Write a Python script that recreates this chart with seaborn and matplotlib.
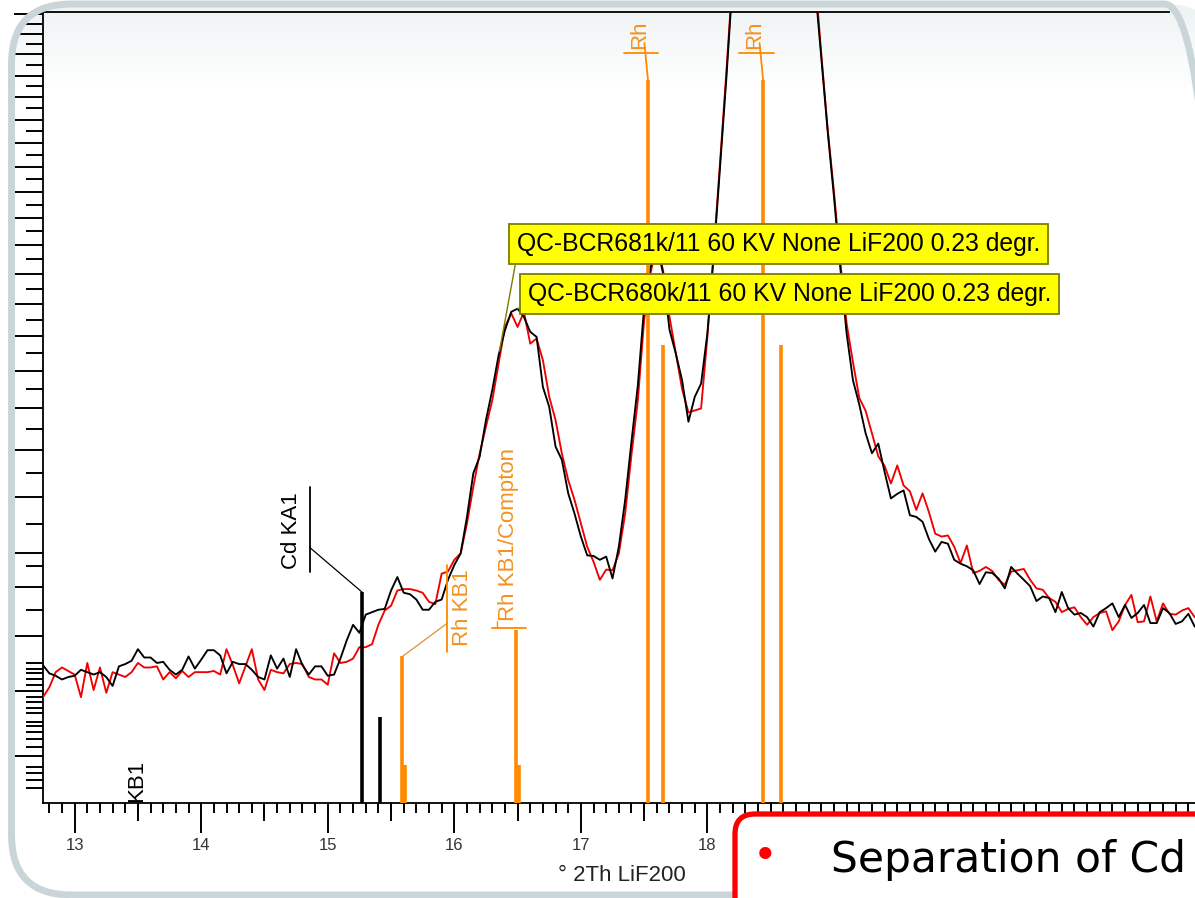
import numpy as np
import pandas as pd
import matplotlib
matplotlib.use("Agg")
import matplotlib.pyplot as plt
import seaborn as sns
from matplotlib.patches import FancyBboxPatch
from matplotlib.ticker import FixedLocator, NullFormatter

# ---------------- data (2Theta scan, intensities in kcps) ----------------
scan_start = 12.75
scan_step = 0.05

bcr681k = [
    0.61, 0.54, 0.52, 0.49, 0.51, 0.52, 0.57, 0.55, 0.53, 0.55, 0.51, 0.44, 0.60, 0.62, 0.65, 0.76, 0.68, 0.68, 0.63, 0.64,
    0.57, 0.53, 0.57, 0.69, 0.58, 0.66, 0.75, 0.75, 0.70, 0.54, 0.64, 0.62, 0.62, 0.57, 0.51, 0.49, 0.70, 0.58, 0.67, 0.51,
    0.76, 0.61, 0.53, 0.60, 0.60, 0.52, 0.53, 0.67, 0.85, 1.02, 0.93, 1.14, 1.17, 1.20, 1.21, 1.45, 1.64, 1.42, 1.40, 1.33,
    1.20, 1.20, 1.30, 1.33, 1.60, 1.82, 2.00, 2.63, 3.49, 3.85, 4.71, 5.48, 6.44, 7.18, 7.75, 7.85, 7.59, 7.13, 6.98, 5.56,
    5.04, 4.08, 3.78, 3.08, 2.69, 2.28, 1.97, 1.96, 1.90, 1.95, 1.62, 2.11, 2.95, 4.20, 5.60, 7.90, 9.20, 10.0, 9.00, 7.20,
    6.49, 5.74, 4.67, 5.30, 5.65, 7.10, 9.64, 13.0, 16.9, 21.8, 30.0, 38.0, 46.0, 54.0, 60.0, 62.0, 60.0, 54.0, 46.0, 38.0,
    31.0, 26.0, 21.5, 17.8, 14.5, 11.8, 9.20, 7.08, 5.74, 5.10, 4.39, 3.93, 4.15, 3.52, 2.98, 3.07, 3.14, 2.66, 2.63, 2.54,
    2.24, 2.03, 2.19, 2.16, 1.90, 1.84, 1.80, 1.74, 1.54, 1.71, 1.70, 1.62, 1.48, 1.79, 1.69, 1.60, 1.51, 1.31, 1.37, 1.35,
    1.17, 1.43, 1.22, 1.14, 1.16, 1.11, 1.00, 1.17, 1.22, 1.28, 1.11, 1.26, 1.10, 1.16, 1.26, 1.04, 1.04, 1.22, 1.16, 1.03,
    1.06, 1.15, 1.00, 1.05,
]
bcr680k = [
    0.36, 0.43, 0.55, 0.59, 0.56, 0.53, 0.36, 0.63, 0.41, 0.59, 0.39, 0.55, 0.53, 0.51, 0.55, 0.63, 0.59, 0.59, 0.60, 0.49,
    0.55, 0.50, 0.56, 0.51, 0.55, 0.55, 0.55, 0.56, 0.53, 0.76, 0.61, 0.46, 0.60, 0.76, 0.49, 0.41, 0.57, 0.55, 0.54, 0.62,
    0.63, 0.62, 0.51, 0.49, 0.49, 0.45, 0.72, 0.63, 0.64, 0.67, 0.78, 0.78, 0.81, 1.02, 1.19, 1.25, 1.45, 1.47, 1.47, 1.45,
    1.42, 1.30, 1.27, 1.69, 1.72, 1.90, 2.00, 2.51, 3.21, 3.92, 4.55, 5.21, 6.21, 7.28, 7.70, 7.28, 7.75, 6.78, 6.93, 6.30,
    5.30, 4.71, 3.92, 3.35, 2.95, 2.51, 2.11, 1.87, 1.60, 1.75, 1.74, 2.00, 2.69, 3.90, 5.20, 7.50, 9.00, 10.1, 9.10, 7.60,
    6.50, 5.50, 4.90, 4.95, 5.00, 7.00, 9.80, 13.2, 17.2, 22.0, 30.5, 38.5, 46.5, 54.5, 60.5, 62.5, 60.5, 54.5, 46.5, 38.5,
    31.5, 26.5, 22.0, 18.0, 14.6, 12.0, 9.40, 7.38, 6.24, 5.27, 4.94, 4.39, 3.86, 3.65, 3.28, 3.66, 3.24, 3.12, 2.76, 3.08,
    2.72, 2.33, 2.28, 2.30, 2.11, 1.85, 2.13, 1.70, 1.73, 1.79, 1.73, 1.60, 1.53, 1.72, 1.74, 1.76, 1.60, 1.48, 1.46, 1.35,
    1.30, 1.17, 1.21, 1.23, 1.11, 1.02, 1.11, 1.16, 1.18, 0.96, 1.06, 1.26, 1.39, 1.05, 1.06, 1.37, 1.06, 1.28, 1.15, 1.14,
    1.19, 1.22, 1.11, 1.10,
]
two_theta = np.round(scan_start + scan_step * np.arange(len(bcr681k)), 2)

# line library markers
cd_line_pos = [15.27, 15.41]
cd_line_int = [1.43, 0.237]
rh_line_pos = [15.59, 15.61, 16.49, 16.51, 17.53, 17.65, 18.44, 18.58]
rh_line_int = [0.69, 0.046, 0.96, 0.046, 16.8, 6.73, 16.8, 6.73]

x_major = [13, 14, 15, 16, 17, 18, 19, 20, 21]
# labels 19-21 are hidden behind the slide text box in the reference
x_major_labels = ['13', '14', '15', '16', '17', '18', '', '', '']
x_label = "° 2Th LiF200"
box_texts = ["QC-BCR681k/11 60 KV None LiF200 0.23 degr.",
             "QC-BCR680k/11 60 KV None LiF200 0.23 degr."]

# ---------------- styling ----------------
sns.set_style("ticks")
plt.rcParams['font.family'] = ['Liberation Sans', 'DejaVu Sans']

W, H = 1195, 898
fig = plt.figure(figsize=(W / 100, H / 100), dpi=100)
fig.patch.set_facecolor('white')

# slide frame geometry (inches, origin bottom-left); right side runs off the slide crop
frame_xy = (0.115, 0.03)
frame_w, frame_h = 12.13, 8.91
frame_style = 'round,pad=0,rounding_size=0.6'

# slide background with gradient, clipped to rounded frame
bg = fig.add_axes([0, 0, 1, 1], zorder=-5)
bg.set_axis_off()
tint = np.array([0.935, 0.950, 0.955])
grad = np.ones((H, 1, 3))
t = np.linspace(0.0, 1.0, 90)[:, None]
grad[:90, 0, :] = tint * (1 - t) + 1.0 * t
im = bg.imshow(grad, aspect='auto', extent=(0, 1, 0, 1), interpolation='bilinear')
frame_clip = FancyBboxPatch(frame_xy, frame_w, frame_h, boxstyle=frame_style,
                            transform=fig.dpi_scale_trans, fc='none', ec='none')
im.set_clip_path(frame_clip)

# main axes
ax = fig.add_axes([43 / W, 1 - 803 / H, 1158 / W, 791 / H])
ax.set_facecolor('none')

df = pd.DataFrame({
    'two_theta': np.concatenate([two_theta, two_theta]),
    'intensity': np.concatenate([bcr680k, bcr681k]),
    'sample': ['BCR680k'] * len(bcr680k) + ['BCR681k'] * len(bcr681k),
})
sns.lineplot(data=df, x='two_theta', y='intensity', hue='sample',
             hue_order=['BCR680k', 'BCR681k'],
             palette={'BCR680k': '#f00000', 'BCR681k': '#000000'},
             estimator=None, sort=False, linewidth=1.35, legend=False, ax=ax, zorder=3)

ax.set_yscale('function', functions=(lambda v: np.sqrt(np.clip(v, 0, None)),
                                     lambda s: np.square(s)))
ax.set_xlim(12.75, 21.9)
ax.set_ylim(0, 20.1)

orange = '#ff8a00'
orange_txt = '#f39222'
ax.vlines(cd_line_pos, 0, cd_line_int, colors='black', linewidth=2.6, zorder=4)
ax.vlines(rh_line_pos, 0, rh_line_int, colors=orange, linewidth=2.6, zorder=4)

# ---------------- axes / ticks ----------------
for s in ['left', 'bottom', 'top']:
    ax.spines[s].set_color('black')
    ax.spines[s].set_linewidth(1.3)
ax.spines['right'].set_visible(False)
ax.spines['top'].set_bounds(12.75, 21.65)

ax.xaxis.set_major_locator(FixedLocator(x_major))
ax.xaxis.set_minor_locator(FixedLocator(np.round(np.arange(12.8, 21.95, 0.1), 1)))
ax.tick_params(axis='x', which='major', direction='out', length=21.5, width=1.4,
               color='black', labelsize=12, labelcolor='#333333', pad=3.5)
ax.tick_params(axis='x', which='minor', direction='out', length=7, width=1.4, color='black')
ax.set_xticklabels(x_major_labels)

sec = ax.secondary_xaxis('bottom')
sec.xaxis.set_major_locator(FixedLocator(np.arange(12.5, 22.0, 1.0)))
sec.tick_params(axis='x', direction='out', length=13, width=1.4, color='black', labelbottom=False)
sec.spines['bottom'].set_visible(False)

y_major = [0.07, 0.4, 0.9, 1.5] + list(range(2, 21))
y_minor = [0.007, 0.017, 0.028, 0.042, 0.10, 0.13, 0.16, 0.19, 0.21, 0.26, 0.29, 0.33,
           0.36, 0.45, 0.49, 0.54, 0.58, 0.63, 1.2, 1.8] + list(np.arange(2.5, 20.0, 1.0))
ax.yaxis.set_major_locator(FixedLocator(y_major))
ax.yaxis.set_minor_locator(FixedLocator(y_minor))
ax.yaxis.set_major_formatter(NullFormatter())
ax.yaxis.set_minor_formatter(NullFormatter())
ax.tick_params(axis='y', which='major', direction='out', length=21, width=1.4, color='black')
ax.tick_params(axis='y', which='minor', direction='out', length=12, width=1.4, color='black')

ax.set_xlabel(x_label, fontsize=16, color='#222222', labelpad=9)
ax.set_ylabel('')

# ---------------- line labels ----------------
lab_fs = 16
# Cd KA1
ax.plot([cd_line_pos[0], 14.856], [cd_line_int[0], 2.10], color='black', lw=0.9, zorder=4)
ax.plot([14.856, 14.856], [1.71, 3.21], color='black', lw=1.3, zorder=4)
ax.text(14.714, 2.39, 'Cd KA1', rotation=90, ha='center', va='center', fontsize=lab_fs, color='black')
# KB1
ax.text(13.49, 0.016, 'KB1', rotation=90, ha='center', va='center', fontsize=lab_fs, color='black')
# Rh KB1
ax.plot([rh_line_pos[0], 15.946], [rh_line_int[0], 1.04], color='#e0913a', lw=0.9, zorder=4)
ax.plot([15.946, 15.946], [0.73, 1.82], color=orange, lw=1.3, zorder=4)
ax.text(16.065, 1.23, 'Rh KB1', rotation=90, ha='center', va='center', fontsize=lab_fs, color=orange_txt)
# Rh KB1/Compton
ax.plot([16.294, 16.570], [0.983, 0.983], color=orange, lw=1.3, zorder=4)
ax.plot([16.34, 16.34], [0.983, 1.063], color=orange, lw=1.0, zorder=4)
ax.text(16.428, 2.31, 'Rh KB1/Compton', rotation=90, ha='center', va='center', fontsize=lab_fs, color=orange_txt)
# Rh (top)
for pos, inten in [(rh_line_pos[4], rh_line_int[4]), (rh_line_pos[6], rh_line_int[6])]:
    ax.plot([pos - 0.193, pos + 0.083], [18.06, 18.06], color=orange, lw=1.3, zorder=4)
    ax.plot([pos, pos - 0.028], [inten, 18.55], color=orange, lw=1.3, zorder=4)
    ax.text(pos - 0.067, 18.95, 'Rh', rotation=90, ha='center', va='center', fontsize=lab_fs, color=orange_txt)

# ---------------- yellow spectrum labels ----------------
olive = '#7d7d00'
ax.annotate(box_texts[0], xy=(16.357, 6.56), xytext=(18.561, 10.03), textcoords='data',
            ha='center', va='center', fontsize=17.8, color='black', zorder=8,
            bbox=dict(boxstyle='square,pad=0.33', fc='#ffff00', ec=olive, lw=1.3),
            arrowprops=dict(arrowstyle='-', color=olive, lw=1.0, relpos=(0, 0),
                            shrinkA=0, shrinkB=0))
ax.annotate(box_texts[1], xy=(16.50, 7.85), xytext=(18.648, 8.32), textcoords='data',
            ha='center', va='center', fontsize=17.8, color='black', zorder=8,
            bbox=dict(boxstyle='square,pad=0.33', fc='#ffff00', ec=olive, lw=1.3),
            arrowprops=dict(arrowstyle='-', color=olive, lw=1.0, relpos=(0, 0),
                            shrinkA=0, shrinkB=0))

# ---------------- slide decorations ----------------
frame = FancyBboxPatch(frame_xy, frame_w, frame_h, boxstyle=frame_style,
                       transform=fig.dpi_scale_trans, fc='none', ec='#c9d5d9', lw=5, zorder=6)
fig.add_artist(frame)

red_box = FancyBboxPatch((7.35, -1.5), 6.0, 2.34,
                         boxstyle='round,pad=0,rounding_size=0.2',
                         transform=fig.dpi_scale_trans, fc='white', ec='#ff0000', lw=3.8, zorder=10)
fig.add_artist(red_box)
fig.text(765 / W, 1 - 857 / H, '•', color='#ff0000', fontsize=30, ha='center', va='center',
         family='DejaVu Sans', zorder=11)
fig.text(831 / W, 1 - 872 / H, 'Separation of Cd', color='black', fontsize=30.5, ha='left',
         va='baseline', family='DejaVu Sans', zorder=11)

fig.savefig('out.png', dpi=100)
